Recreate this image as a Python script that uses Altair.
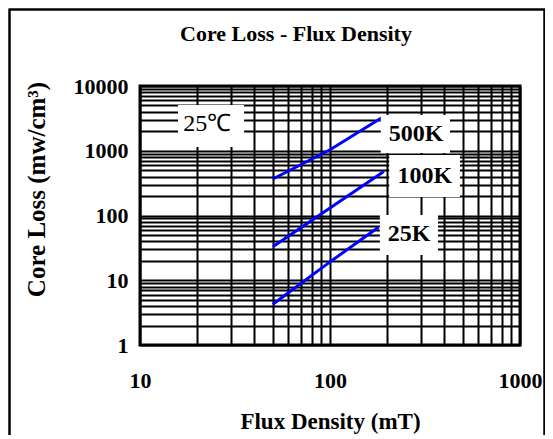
import altair as alt
import pandas as pd

# ---- data ----
series_names = ["500K", "100K", "25K"]
flux_500k = [50, 100, 190]
loss_500k = [366, 1035, 3320]
flux_100k = [50, 100, 192]
loss_100k = [33, 131, 479]
flux_25k = [50, 100, 180]
loss_25k = [4.26, 19.2, 66]

# axis grid / tick values
x_grid = [10, 20, 30, 40, 50, 60, 70, 80, 90,
          100, 200, 300, 400, 500, 600, 700, 800, 900, 1000]
y_grid = [1, 2, 3, 4, 5, 6, 7, 8, 9,
          10, 20, 30, 40, 50, 60, 70, 80, 90,
          100, 200, 300, 400, 500, 600, 700, 800, 900,
          1000, 2000, 3000, 4000, 5000, 6000, 7000, 8000, 9000, 10000]
x_label_values = [10, 100, 1000]
y_label_values = [1, 10, 100, 1000, 10000]

# annotations (label text and where it sits, in data units)
label_texts = ["500K", "100K", "25K", "25℃"]
label_bold = [True, True, True, False]
label_x = [284, 316, 261, 22.6]
label_y = [1815, 407, 51.8, 2590]
box_x1 = [185, 205, 183, 15.85]
box_x2 = [428, 483, 370, 35.3]
box_y1 = [3565, 859, 102, 5090]
box_y2 = [923, 193, 24.5, 1143]

FONT = "Liberation Serif"
W, H = 380, 259

rows = []
for name, xs, ys in [("500K", flux_500k, loss_500k),
                     ("100K", flux_100k, loss_100k),
                     ("25K", flux_25k, loss_25k)]:
    for xv, yv in zip(xs, ys):
        rows.append({"series": name, "flux": xv, "loss": yv})
lines_df = pd.DataFrame(rows)

ann_df = pd.DataFrame({
    "text": label_texts, "bold": label_bold,
    "lx": label_x, "ly": label_y,
    "bx1": box_x1, "bx2": box_x2, "by1": box_y1, "by2": box_y2,
})

xscale = alt.Scale(type="log", domain=[10, 1000], nice=False)
yscale = alt.Scale(type="log", domain=[1, 10000], nice=False)

x_expr = "indexof(%s, datum.value) >= 0 ? format(datum.value, 'd') : ''" % str(x_label_values)
y_expr = "indexof(%s, datum.value) >= 0 ? format(datum.value, 'd') : ''" % str(y_label_values)

x_axis = alt.Axis(
    values=x_grid, labelExpr=x_expr, labelOverlap=False, labelFlush=False,
    grid=True, gridColor="black", gridWidth=2, gridOpacity=1,
    domain=False, ticks=False, tickSize=0,
    labelPadding=35, labelBaseline="middle", labelFontSize=22,
    labelFont=FONT, labelFontWeight="bold", labelColor="black",
    title="Flux Density (mT)", titleFont=FONT, titleFontSize=23,
    titleFontWeight="bold", titleColor="black",
    titleY=76, titleBaseline="middle",
)
y_axis = alt.Axis(
    values=y_grid, labelExpr=y_expr, labelOverlap=False, labelFlush=False,
    grid=True, gridColor="black", gridWidth=2, gridOpacity=1,
    domain=False, ticks=False, tickSize=0,
    labelPadding=12, labelAlign="right", labelBaseline="middle",
    labelFontSize=22, labelFont=FONT, labelFontWeight="bold", labelColor="black",
    title="Core Loss (mw/cm³)", titleFont=FONT, titleFontSize=25,
    titleFontWeight="bold", titleColor="black",
    titleX=-104, titleY=103, titleAngle=270, titleAlign="center",
    titleBaseline="middle",
)

lines = alt.Chart(lines_df).mark_line(color="#0000FF", strokeWidth=3).encode(
    x=alt.X("flux:Q", scale=xscale, axis=x_axis),
    y=alt.Y("loss:Q", scale=yscale, axis=y_axis),
    detail="series:N",
)

boxes = alt.Chart(ann_df).mark_rect(color="white").encode(
    x=alt.X("bx1:Q", scale=xscale), x2="bx2:Q",
    y=alt.Y("by1:Q", scale=yscale), y2="by2:Q",
)

texts_bold = alt.Chart(ann_df).transform_filter("datum.bold").mark_text(
    font=FONT, fontSize=24, fontWeight="bold", color="black",
    align="center", baseline="middle"
).encode(
    x=alt.X("lx:Q", scale=xscale),
    y=alt.Y("ly:Q", scale=yscale),
    text="text:N",
)
texts_plain = alt.Chart(ann_df).transform_filter("!datum.bold").mark_text(
    font=FONT, fontSize=24, fontWeight="normal", color="black",
    align="center", baseline="middle"
).encode(
    x=alt.X("lx:Q", scale=xscale),
    y=alt.Y("ly:Q", scale=yscale),
    text="text:N",
)

one = pd.DataFrame({"k": [0]})
frame_left = alt.Chart(one).mark_rule(color="black", strokeWidth=2.5).encode(
    x=alt.value(-130.5), y=alt.value(-76.5), y2=alt.value(H + 95))
frame_top = alt.Chart(one).mark_rule(color="black", strokeWidth=2.5).encode(
    x=alt.value(-131.5), x2=alt.value(405.5), y=alt.value(-76.5))
frame_right = alt.Chart(one).mark_rule(color="black", strokeWidth=2.5).encode(
    x=alt.value(404.5), y=alt.value(-76.5), y2=alt.value(H + 95))

chart = alt.layer(lines, boxes, texts_bold, texts_plain,
                  frame_left, frame_top, frame_right).properties(
    width=W, height=H,
    title=alt.TitleParams(
        "Core Loss - Flux Density", font=FONT, fontSize=22, fontWeight="bold",
        color="black", anchor="middle", offset=-55, dx=-34, baseline="alphabetic",
    ),
    autosize=alt.AutoSizeParams(type="none"),
    padding={"left": 132, "top": 78, "right": 25, "bottom": 90},
    background="white",
).configure_view(stroke="black", strokeWidth=3)

chart.save("out.html", embed_options={"renderer": "svg", "actions": False})
